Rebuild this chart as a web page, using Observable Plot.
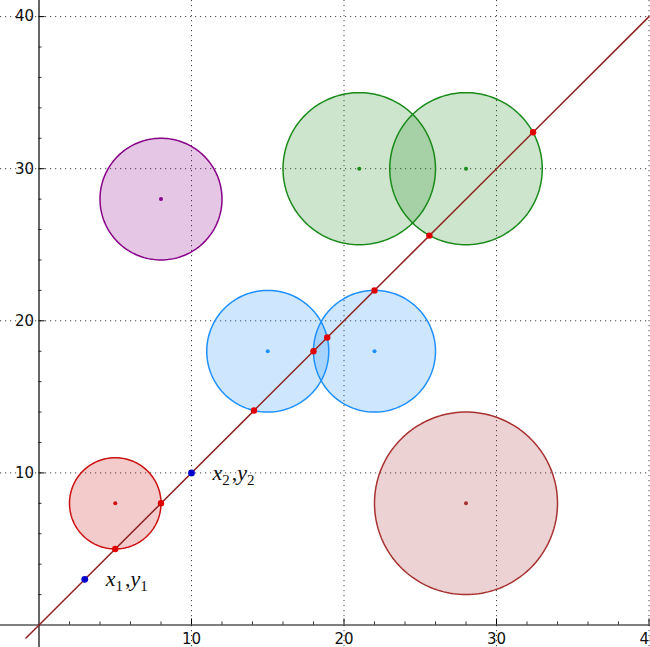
<!DOCTYPE html>
<html>
<head>
<meta charset="utf-8">
<script src="https://cdn.jsdelivr.net/npm/d3@7"></script>
<script src="https://cdn.jsdelivr.net/npm/@observablehq/plot@0.6"></script>
<style>
  html, body { margin: 0; padding: 0; background: #fff; }
  #chart svg { display: block; }
</style>
</head>
<body>
<div id="chart"></div>
<script>
// ---- data ----
const circleX = [5, 8, 15, 22, 21, 28, 28];
const circleY = [8, 28, 18, 18, 30, 30, 8];
const circleR = [3, 4, 4, 4, 5, 5, 6];
const circleGroup = ["A", "B", "C", "C", "D", "D", "E"];

const groupNames = ["A", "B", "C", "D", "E"];
const groupColors = ["#cc1111", "#880088", "#1e90ff", "#1a8a1a", "#a83232"];

const lineX = [-0.85, 40];
const lineY = [-0.85, 40];

const hitX = [5, 8, 14.1, 18.9, 18, 22, 25.6, 32.4];
const hitY = [5, 8, 14.1, 18.9, 18, 22, 25.6, 32.4];

const pointX = [3, 10];
const pointY = [3, 10];
const pointLabels = ["x₁,y₁", "x₂,y₂"];

const majorTicks = [10, 20, 30, 40];
const minorTicks = [2, 4, 6, 8, 12, 14, 16, 18, 22, 24, 26, 28, 32, 34, 36, 38];

// ---- derived tables ----
const circles = circleX.map((cx, i) => ({id: i, cx, cy: circleY[i], r: circleR[i], group: circleGroup[i]}));
const N = 180;
const outline = circles.flatMap(c => d3.range(N).map(k => {
  const t = 2 * Math.PI * k / N;
  return {id: c.id, group: c.group, x: c.cx + c.r * Math.cos(t), y: c.cy + c.r * Math.sin(t)};
}));
const lineData = lineX.map((x, i) => ({x, y: lineY[i]}));
const hits = hitX.map((x, i) => ({x, y: hitY[i]}));
const pts = pointX.map((x, i) => ({x, y: pointY[i], label: pointLabels[i]}));

const pxPerX = 15.25, pxPerY = 15.21, x0px = 38.5, y0px = 624.5;
const W = 650, H = 647;

const chart = Plot.plot({
  width: W,
  height: H,
  marginLeft: 0, marginRight: 0, marginTop: 0, marginBottom: 0,
  x: {domain: [-x0px / pxPerX, (W - x0px) / pxPerX], axis: null},
  y: {domain: [-(H - y0px) / pxPerY, y0px / pxPerY], axis: null},
  color: {type: "ordinal", domain: groupNames, range: groupColors},
  style: {background: "#fff", fontFamily: "DejaVu Sans"},
  marks: [
    // dotted grid
    Plot.ruleX(majorTicks, {x: d => d, stroke: "#444", strokeWidth: 1, strokeDasharray: "1.2,3.8"}),
    Plot.ruleY(majorTicks, {y: d => d, stroke: "#444", strokeWidth: 1, strokeDasharray: "1.2,3.8"}),
    // axes through the origin
    Plot.ruleY([0], {stroke: "#000", strokeWidth: 1.2}),
    Plot.ruleX([0], {stroke: "#000", strokeWidth: 1.2}),
    // ticks
    Plot.ruleX(majorTicks, {x: d => d, y1: 0, y2: 0.4, stroke: "#000", strokeWidth: 1}),
    Plot.ruleX(minorTicks, {x: d => d, y1: 0, y2: 0.2, stroke: "#000", strokeWidth: 0.8}),
    Plot.ruleY(majorTicks, {y: d => d, x1: 0, x2: 0.4, stroke: "#000", strokeWidth: 1}),
    Plot.ruleY(minorTicks, {y: d => d, x1: 0, x2: 0.2, stroke: "#000", strokeWidth: 0.8}),
    // tick labels
    Plot.text(majorTicks, {x: d => d, y: 0, text: d => String(d), lineAnchor: "top", dy: 8, fontSize: 15, fill: "#111"}),
    Plot.text(majorTicks, {x: 0, y: d => d, text: d => String(d), textAnchor: "end", dx: -5, fontSize: 15, fill: "#111"}),
    // circles
    Plot.line(outline, {x: "x", y: "y", z: "id", fill: "group", fillOpacity: 0.22, stroke: "group", strokeWidth: 1.5, curve: "linear-closed"}),
    // centers
    Plot.dot(circles, {x: "cx", y: "cy", fill: "group", r: 2}),
    // line through the two points
    Plot.line(lineData, {x: "x", y: "y", stroke: "#8e2222", strokeWidth: 1.5}),
    // intersections
    Plot.dot(hits, {x: "x", y: "y", fill: "#e00000", r: 3.2}),
    // the two given points
    Plot.dot(pts, {x: "x", y: "y", fill: "#0000cc", r: 3.4}),
    Plot.text(pts, {x: "x", y: "y", text: "label", textAnchor: "start", dx: 21, dy: 0, fontSize: 22, fontStyle: "italic", fontFamily: "Liberation Serif", fill: "#111"})
  ]
});
document.getElementById("chart").appendChild(chart);

// typeset the subscripts of the point labels as real tspans
const subMap = {"₀": "0", "₁": "1", "₂": "2", "₃": "3"};
d3.select(chart).selectAll("text").filter(function () { return pointLabels.includes(this.textContent); })
  .each(function () {
    const s = this.textContent;
    const el = d3.select(this);
    el.text(null);
    let low = false;
    for (const ch of s) {
      const isSub = ch in subMap;
      const ts = el.append("tspan").text(isSub ? subMap[ch] : ch);
      if (isSub && !low) { ts.attr("dy", 5).attr("font-size", 15).attr("font-style", "normal"); low = true; }
      else if (isSub) { ts.attr("font-size", 15).attr("font-style", "normal"); }
      else if (!isSub && low) { ts.attr("dy", -5); low = false; }
      if (ch === ",") ts.attr("dx", 2).attr("font-style", "normal");
    }
  });
</script>
</body>
</html>
